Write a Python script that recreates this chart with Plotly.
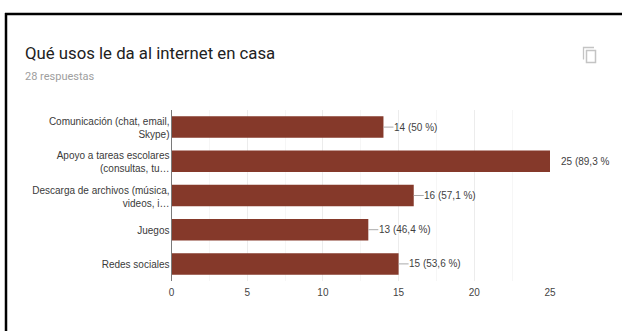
import plotly.graph_objects as go

# Survey answers, listed top to bottom
categories = [
    "Comunicación (chat, email,<br>Skype)",
    "Apoyo a tareas escolares<br>(consultas, tu…",
    "Descarga de archivos (música,<br>videos, i…",
    "Juegos",
    "Redes sociales",
]
counts = [14, 25, 16, 13, 15]
value_labels = ["14 (50 %)", "25 (89,3 %", "16 (57,1 %)", "13 (46,4 %)", "15 (53,6 %)"]
x_ticks = [0, 5, 10, 15, 20, 25]

W, H = 622, 331
BAR = "#85392a"
GRID = "#ececec"
MINOR = "#f6f6f6"
FONT = "Liberation Sans, Arial, sans-serif"

def px(x):
    return x / W

def py(y):
    return 1 - y / H

fig = go.Figure(go.Bar(
    x=counts, y=categories, orientation="h", width=0.63,
    marker=dict(color=BAR, line=dict(width=0)),
    hoverinfo="skip",
))

shapes = []
annotations = []

# Leader lines and value labels beside each bar
for cat, val, lab in zip(categories, counts, value_labels):
    if val != max(counts):
        shapes.append(dict(
            type="line", xref="x", yref="y", xsizemode="pixel", xanchor=val,
            x0=0, x1=10, y0=cat, y1=cat, line=dict(color="#aaaaaa", width=1),
        ))
    annotations.append(dict(
        x=val, y=cat, xref="x", yref="y", text=lab, showarrow=False,
        xanchor="left", xshift=8.5, yshift=0,
        font=dict(family=FONT, size=10, color="#3f3f3f"),
    ))

# Card edge along the top and left
shapes += [
    dict(type="line", xref="paper", yref="paper", x0=px(5), x1=1, y0=py(14), y1=py(14),
         line=dict(color="#000000", width=2.5)),
    dict(type="line", xref="paper", yref="paper", x0=px(6), x1=px(6), y0=py(13), y1=0,
         line=dict(color="#000000", width=2.5)),
    # Copy icon next to the title
    dict(type="path", xref="paper", yref="paper",
         path=f"M {px(594)} {py(47.5)} L {px(583.5)} {py(47.5)} L {px(583.5)} {py(59.5)}",
         line=dict(color="#c4c4c4", width=1.3)),
    dict(type="rect", xref="paper", yref="paper",
         x0=px(586.5), x1=px(595.5), y0=py(62.5), y1=py(50.5),
         line=dict(color="#c4c4c4", width=1.5), fillcolor="rgba(0,0,0,0)"),
]

annotations += [
    dict(xref="paper", yref="paper", x=px(22.5), y=py(53), text="Qué usos le da al internet en casa",
         showarrow=False, xanchor="left", yanchor="middle",
         font=dict(family="Roboto, sans-serif", size=16.75, color="#212121")),
    dict(xref="paper", yref="paper", x=px(23), y=py(77), text="28 respuestas",
         showarrow=False, xanchor="left", yanchor="middle",
         font=dict(family="Roboto, sans-serif", size=11, color="#9e9e9e")),
]

fig.update_layout(
    width=W, height=H, margin=dict(l=0, r=0, t=0, b=0, autoexpand=False),
    paper_bgcolor="white", plot_bgcolor="white", showlegend=False,
    shapes=shapes, annotations=annotations,
    xaxis=dict(
        domain=[px(171.5), px(550)], range=[0, 25], tickvals=x_ticks,
        showgrid=True, gridcolor=GRID, gridwidth=1, zeroline=False, showline=False,
        minor=dict(dtick=2.5, tick0=0, showgrid=True, gridcolor=MINOR, gridwidth=1, ticks=""),
        tickfont=dict(family=FONT, size=10, color="#444444"), ticks="", ticklabelstandoff=4,
    ),
    yaxis=dict(
        domain=[py(281), py(110)], autorange="reversed", showgrid=False, zeroline=False,
        showline=True, linecolor="#7a7a7a", linewidth=1, ticks="",
        tickfont=dict(family=FONT, size=10, color="#3a3a3a"),
        ticklabelstandoff=-1, ticklabelshift=-1,
    ),
)

fig.write_html("out.html", config=dict(displayModeBar=False))
